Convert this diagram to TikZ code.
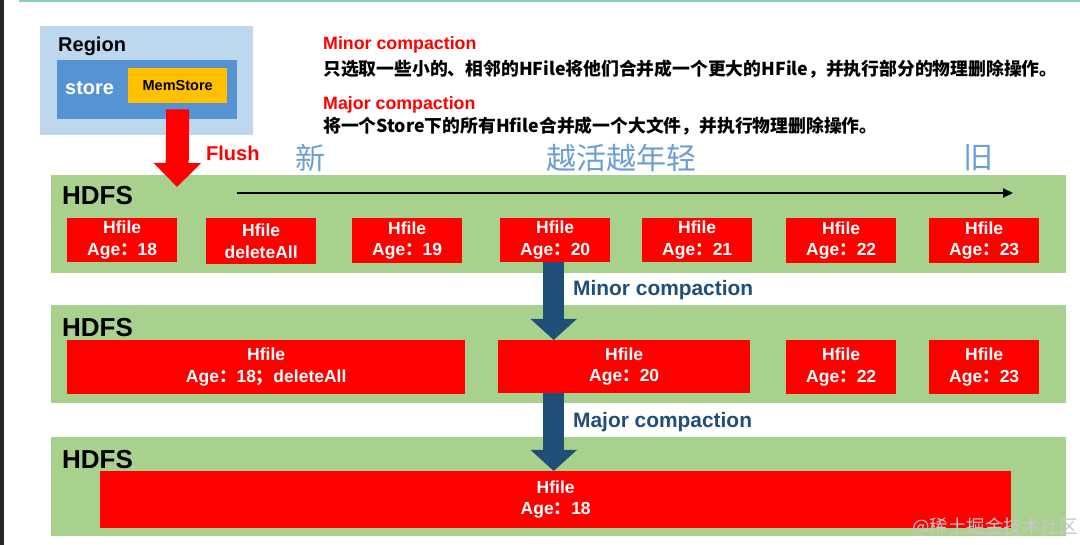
\documentclass[tikz,border=0pt]{standalone}
\usepackage{fontspec}
\setmainfont{Liberation Sans}
\newfontfamily\cjk{Noto Sans CJK SC}
\usetikzlibrary{arrows.meta}
\definecolor{bandgreen}{HTML}{A9D18E}
\definecolor{hred}{HTML}{FF0000}
\definecolor{regionblue}{HTML}{BDD7EE}
\definecolor{storeblue}{HTML}{5593D3}
\definecolor{memyellow}{HTML}{FFC000}
\definecolor{darkarrow}{HTML}{1F4E79}
\definecolor{lightword}{HTML}{6C9FD5}
\definecolor{topline}{HTML}{8CCFB8}
\newcommand\fsz[2]{\fontsize{#1}{#2}\selectfont}
\newcommand\fcolon{{\cjk ：}}
\newcommand\fsemi{{\cjk ；}}
\begin{document}
\begin{tikzpicture}[x=1pt,y=-1pt,
  band/.style={fill=bandgreen, draw=none, inner sep=0pt, anchor=north west},
  hfilebox/.style={fill=hred, draw=none, text=white, inner sep=0pt, anchor=north west,
    align=center, font=\bfseries\fsz{17.5}{21.5}},
  hdfslabel/.style={anchor=base west, inner sep=0pt, font=\bfseries\fsz{26}{30}},
  redhead/.style={anchor=west, inner sep=0pt, text=hred, font=\bfseries\fsz{17.8}{21}},
  cjkline/.style={anchor=west, inner sep=0pt, font=\cjk\bfseries\fsz{17.8}{21}},
  ageword/.style={anchor=west, inner sep=0pt, text=lightword, font=\cjk\fsz{30}{34}},
  complabel/.style={anchor=west, inner sep=0pt, text=darkarrow, font=\bfseries\fsz{20.9}{25}},
  fatblue/.style={darkarrow, line width=21pt, -{Triangle[width=45pt,length=21pt]}},
  fatred/.style={hred, line width=23pt, -{Triangle[width=46pt,length=24pt]}},
  timeline/.style={black, line width=2pt, -{Triangle[width=9pt,length=10pt]}}
]
\useasboundingbox (0,0) rectangle (1080,545);
\fill[white] (0,0) rectangle (1080,545);
% screenshot edges
\fill[black!85] (0,0) rectangle (4,545);
\fill[topline] (19,0) rectangle (1080,2);

% Region
\node[fill=regionblue, inner sep=0pt, anchor=north west, minimum width=213pt, minimum height=109pt] (region) at (40,26) {};
\node[anchor=base west, inner sep=0pt, font=\bfseries\fsz{20}{24}] (regiont) at (58,52) {Region};
\node[fill=storeblue, inner sep=0pt, anchor=north west, minimum width=180pt, minimum height=59pt] (store) at (57,60) {};
\node[anchor=base west, inner sep=0pt, text=white, font=\bfseries\fsz{20}{24}] (storet) at (65,95) {store};
\node[fill=memyellow, inner sep=0pt, anchor=north west, minimum width=99pt, minimum height=35pt, font=\bfseries\fsz{14.5}{17}] (mem) at (128,68) {MemStore};

% Texts top
\node[redhead] (minorh) at (323,45) {Minor compaction};
\node[cjkline] (minorc) at (323,69) {只选取一些小的、相邻的HFile将他们合并成一个更大的HFile，并执行部分的物理删除操作。};
\node[redhead] (majorh) at (323,105) {Major compaction};
\node[cjkline] (majorc) at (323,126) {将一个Store下的所有Hfile合并成一个大文件，并执行物理删除操作。};

% bands
\node[band, minimum width=1015pt, minimum height=98pt] (b1) at (51,175) {};
\node[band, minimum width=1015pt, minimum height=98pt] (b2) at (51,305) {};
\node[band, minimum width=1015pt, minimum height=99pt] (b3) at (51,437) {};
\node[hdfslabel] (h1l) at (62,205) {HDFS};
\node[hdfslabel] (h2l) at (62,337) {HDFS};
\node[hdfslabel] (h3l) at (62,468) {HDFS};

% age words
\node[ageword] (xin) at (295,158) {新};
\node[ageword] (yue) at (546,158) {越活越年轻};
\node[ageword] (jiu) at (963,158) {旧};

% timeline
\coordinate (tl1) at (237,193);
\coordinate (tl2) at (1013,193);
\draw[timeline] (tl1) -- (tl2);

% Flush
\node[anchor=west, inner sep=0pt, text=hred, font=\bfseries\fsz{20}{24}] (flusht) at (206,153) {Flush};
\coordinate (flushtip) at (177,187);
\draw[fatred] ([yshift=-6pt]mem.south) -- (flushtip);

% row 1
\node[hfilebox, minimum width=110pt, minimum height=44pt] (r1a) at (67,218) {Hfile\\Age\fcolon 18};
\node[hfilebox, minimum width=110pt, minimum height=46pt] (r1b) at (206,218) {Hfile\\deleteAll};
\node[hfilebox, minimum width=110pt, minimum height=45pt] (r1c) at (352,218) {Hfile\\Age\fcolon 19};
\node[hfilebox, minimum width=110pt, minimum height=44pt] (r1d) at (500,218) {Hfile\\Age\fcolon 20};
\node[hfilebox, minimum width=110pt, minimum height=44pt] (r1e) at (642,218) {Hfile\\Age\fcolon 21};
\node[hfilebox, minimum width=110pt, minimum height=45pt] (r1f) at (786,218) {Hfile\\Age\fcolon 22};
\node[hfilebox, minimum width=110pt, minimum height=45pt] (r1g) at (929,218) {Hfile\\Age\fcolon 23};

% row 2
\node[hfilebox, minimum width=398pt, minimum height=54pt] (r2a) at (67,340) {Hfile\\Age\fcolon 18\fsemi deleteAll};
\node[hfilebox, minimum width=252pt, minimum height=53pt] (r2b) at (498,340) {Hfile\\Age\fcolon 20};
\node[hfilebox, minimum width=110pt, minimum height=54pt] (r2c) at (786,340) {Hfile\\Age\fcolon 22};
\node[hfilebox, minimum width=110pt, minimum height=54pt] (r2d) at (929,340) {Hfile\\Age\fcolon 23};

% row 3
\node[hfilebox, minimum width=911pt, minimum height=57pt] (r3a) at (100,471) {Hfile\\Age\fcolon 18};

% compaction arrows
\draw[fatblue] ([xshift=-1.5pt]r1d.south) -- ([xshift=-1.5pt]r1d.south |- r2b.north);
\node[complabel] (minorl) at (573,290) {Minor compaction};
\draw[fatblue] ([xshift=-1.5pt]r1d.south |- r2b.south) -- ([xshift=-1.5pt]r1d.south |- r3a.north);
\node[complabel] (majorl) at (573,422) {Major compaction};

% watermark
\node[anchor=west, inner sep=0pt, text=black!22, font=\cjk\fsz{18.5}{20}] (wm) at (912,527) {@稀土掘金技术社区};
\end{tikzpicture}
\end{document}
